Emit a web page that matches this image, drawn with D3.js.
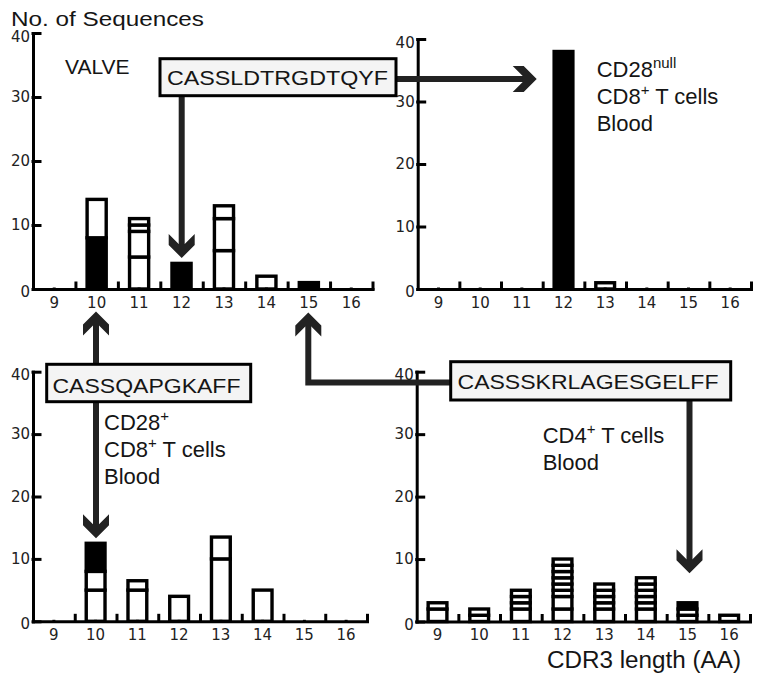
<!DOCTYPE html>
<html>
<head>
<meta charset="utf-8">
<script src="https://cdn.jsdelivr.net/npm/d3@7"></script>
<style>
  body { margin: 0; background: #fff; }
  svg { display: block; }
  .tick text { font-family: "DejaVu Sans", sans-serif; font-size: 15px; fill: #222; }
  .domain, .tick line { stroke: #000; stroke-width: 3; stroke-linecap: square; }
  .lbl { font-family: "Liberation Sans", Arial, sans-serif; fill: #151515; }
</style>
</head>
<body>
<svg id="chart" width="762" height="684"></svg>
<script>
// CDR3 lengths (categories) and y ticks
const lengths = ["9", "10", "11", "12", "13", "14", "15", "16"];
const yTicks = [0, 10, 20, 30, 40];

// stacked segments per length, bottom-up: [count, black?]
const valve = [[], [[8, 1], [6, 0]], [[5, 0], [4, 0], [1, 0], [1, 0]], [[4, 1]],
  [[6, 0], [5, 0], [2, 0]], [[2, 0]], [[1, 1]], []];
const cd28null = [[], [], [], [[38, 1]], [[1, 0]], [], [], []];
const cd28pos = [[], [[5, 0], [3, 0], [4.5, 1]], [[5, 0], [1.5, 0]], [[4, 0]],
  [[10, 0], [3.5, 0]], [[5, 0]], [], []];
const cd4 = [[[2, 0], [1, 0]], [[1, 0], [1, 0]], [[2, 0], [1, 0], [1, 0], [1, 0]],
  [[2, 0], [2, 0], [1, 0], [1, 0], [1, 0], [1, 0], [1, 0], [1, 0]],
  [[2, 0], [1, 0], [1, 0], [1, 0], [1, 0]],
  [[2, 0], [1, 0], [1, 0], [1, 0], [1, 0], [1, 0]],
  [[1, 0], [1, 0], [1, 1]], [[1, 0]]];

const svg = d3.select('#chart');

const panels = [
  { data: valve,    x0: 33,    x1: 372.5, y0: 289,   y1: 33 },
  { data: cd28null, x0: 417.7, x1: 751,   y0: 289,   y1: 39 },
  { data: cd28pos,  x0: 33,    x1: 367,   y0: 621.3, y1: 371.7 },
  { data: cd4,      x0: 416.7, x1: 750,   y0: 621.5, y1: 371.7 }
];

panels.forEach(p => {
  const g = svg.append('g');
  const x = d3.scaleBand().domain(lengths).range([p.x0, p.x1])
    .paddingInner(0.55).paddingOuter(0.275);
  const xb = d3.scaleLinear().domain([0, lengths.length]).range([p.x0, p.x1]);
  const y = d3.scaleLinear().domain([0, 40]).range([p.y0, p.y1]);

  // flatten stacks into segments
  const segs = [];
  p.data.forEach((stack, i) => {
    let base = 0;
    stack.forEach(([n, k]) => {
      segs.push({ cat: lengths[i], lo: base, hi: base + n, black: k });
      base += n;
    });
  });

  g.selectAll('rect.seg')
    .data(segs)
    .join('rect')
    .attr('class', 'seg')
    .attr('x', d => x(d.cat))
    .attr('width', x.bandwidth())
    .attr('y', d => y(d.hi))
    .attr('height', d => y(d.lo) - y(d.hi))
    .attr('fill', d => d.black ? '#000' : '#fff')
    .attr('stroke', '#000')
    .attr('stroke-width', 3.4);

  // y axis, ticks pointing inward
  g.append('g')
    .attr('transform', 'translate(' + p.x0 + ',0)')
    .call(d3.axisLeft(y).tickValues(yTicks).tickSize(-7).tickSizeOuter(0).tickPadding(3))
    .call(a => a.selectAll('.tick text').filter(d => d === 40).attr('dy', '0.55em'))
    .call(a => a.selectAll('.tick text').filter(d => d === 0).attr('dy', '0.5em'));

  // x axis line with boundary ticks
  g.append('g')
    .attr('transform', 'translate(0,' + p.y0 + ')')
    .call(d3.axisBottom(xb).tickValues(d3.range(1, lengths.length + 1))
      .tickSize(-6).tickSizeOuter(0).tickFormat(''));

  // category labels
  g.append('g')
    .attr('transform', 'translate(0,' + p.y0 + ')')
    .call(d3.axisBottom(x).tickSize(0).tickPadding(8))
    .call(a => a.select('.domain').remove());
});

// arrows
const arrowColor = '#222';
function arrow(pts) {
  const n = pts.length;
  const [tx, ty] = pts[n - 1];
  const [px, py] = pts[n - 2];
  const ang = Math.atan2(ty - py, tx - px) * 180 / Math.PI;
  const len = Math.hypot(tx - px, ty - py);
  const shaft = pts.slice(0, n - 1);
  const ux = (tx - px) / len, uy = (ty - py) / len;
  shaft.push([tx - ux * 12, ty - uy * 12]);
  svg.append('path')
    .attr('d', d3.line()(shaft))
    .attr('fill', 'none')
    .attr('stroke', arrowColor)
    .attr('stroke-width', 6)
    .attr('stroke-linejoin', 'miter');
  svg.append('polygon')
    .attr('points', [[0, 0], [-13, -13], [-24, -13], [-14, -3], [-14, 3], [-24, 13], [-13, 13]].join(' '))
    .attr('fill', arrowColor)
    .attr('transform', 'translate(' + tx + ',' + ty + ') rotate(' + ang + ')');
}

arrow([[181.7, 95.7], [181.7, 258]]);
arrow([[396, 79], [536.7, 79]]);
arrow([[96, 364.3], [96, 311.5]]);
arrow([[96, 401.7], [96, 538.3]]);
arrow([[450.7, 382.5], [308.3, 382.5], [308.3, 312.5]]);
arrow([[689.5, 400], [689.5, 573.3]]);

// sequence boxes
const boxes = [
  { text: 'CASSLDTRGDTQYF', x: 160, y: 58.7, w: 236, h: 37, tx: 167, ty: 85, tl: 221 },
  { text: 'CASSQAPGKAFF', x: 46.7, y: 364.3, w: 204, h: 37.4, tx: 52.5, ty: 392.5, tl: 188 },
  { text: 'CASSSKRLAGESGELFF', x: 450.7, y: 361.7, w: 280, h: 38.3, tx: 457.5, ty: 388.5, tl: 261 }
];
boxes.forEach(b => {
  svg.append('rect')
    .attr('x', b.x).attr('y', b.y).attr('width', b.w).attr('height', b.h)
    .attr('fill', '#f4f4f4').attr('stroke', '#000').attr('stroke-width', 3);
  svg.append('text')
    .attr('class', 'lbl')
    .attr('x', b.tx).attr('y', b.ty)
    .attr('font-size', 21)
    .attr('textLength', b.tl)
    .attr('lengthAdjust', 'spacingAndGlyphs')
    .text(b.text);
});

// titles and annotations
svg.append('text').attr('class', 'lbl').attr('x', 11).attr('y', 26)
  .attr('font-size', 20).attr('textLength', 193).attr('lengthAdjust', 'spacingAndGlyphs')
  .text('No. of Sequences');
svg.append('text').attr('class', 'lbl').attr('x', 65).attr('y', 74)
  .attr('font-size', 21).text('VALVE');
svg.append('text').attr('class', 'lbl').attr('x', 547).attr('y', 668)
  .attr('font-size', 23).attr('textLength', 194).attr('lengthAdjust', 'spacingAndGlyphs')
  .text('CDR3 length (AA)');

// multi-line labels; parts flagged 1 are superscripts
function block(x, y, lines) {
  lines.forEach((parts, i) => {
    const t = svg.append('text').attr('class', 'lbl')
      .attr('x', x).attr('y', y + i * 27).attr('font-size', 22);
    let raised = false;
    parts.forEach(([s, sup]) => {
      const ts = t.append('tspan').text(s);
      if (sup) {
        ts.attr('font-size', 15).attr('dy', -9);
        raised = true;
      } else if (raised) {
        ts.attr('dy', 9);
        raised = false;
      }
    });
  });
}

block(596.7, 77.3, [[['CD28'], ['null', 1]], [['CD8'], ['+', 1], [' T cells']], [['Blood']]]);
block(104, 430, [[['CD28'], ['+', 1]], [['CD8'], ['+', 1], [' T cells']], [['Blood']]]);
block(542.7, 443.3, [[['CD4'], ['+', 1], [' T cells']], [['Blood']]]);
</script>
</body>
</html>
